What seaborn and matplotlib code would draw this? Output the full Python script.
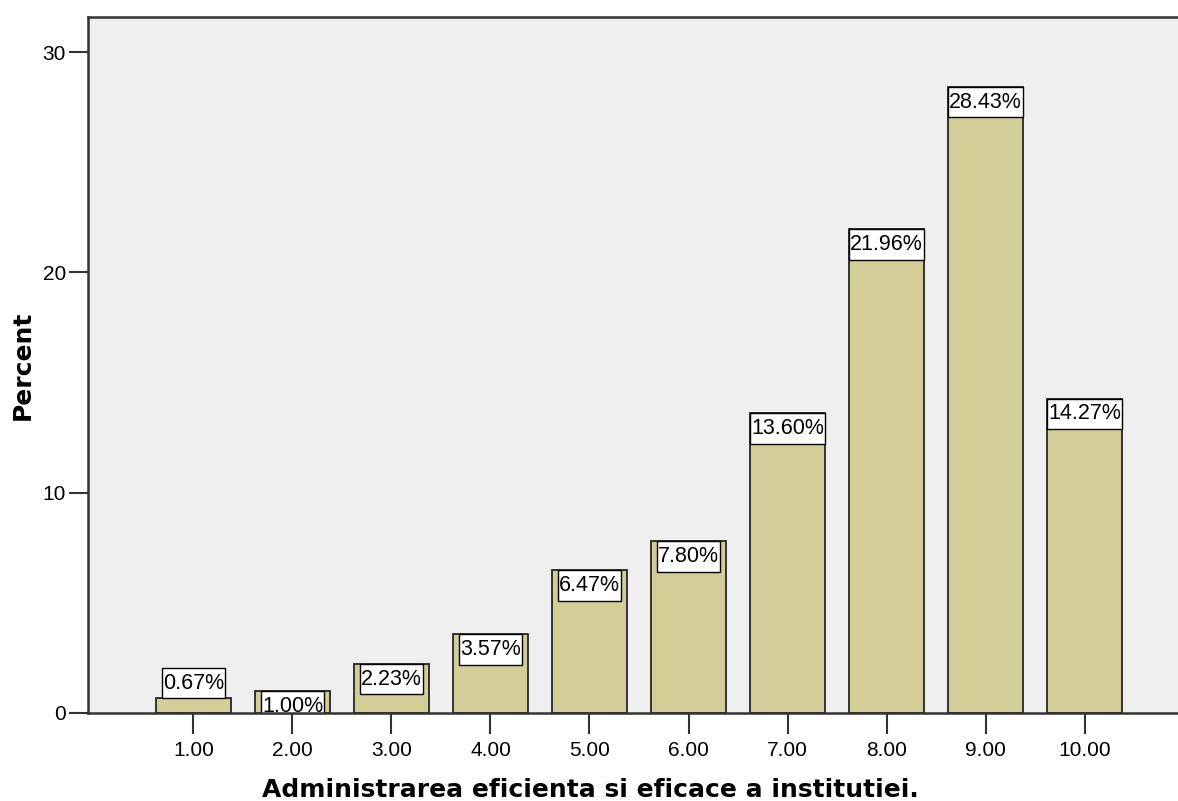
import matplotlib
matplotlib.use("Agg")
import matplotlib.pyplot as plt
from matplotlib.path import Path
import seaborn as sns
import pandas as pd

# Frequency distribution (percent of respondents) for each rating
categories = ["1.00", "2.00", "3.00", "4.00", "5.00",
              "6.00", "7.00", "8.00", "9.00", "10.00"]
percents = [0.67, 1.00, 2.23, 3.57, 6.47, 7.80, 13.60, 21.96, 28.43, 14.27]
y_ticks = [0, 10, 20, 30]
x_title = "Administrarea eficienta si eficace a institutiei."
y_title = "Percent"

LABEL_SIZE = 15.5
PAD_X, PAD_Y = 0.06, 0.22  # fractions of the label font size


def label_box(x0, y0, width, height, mutation_size):
    """Rectangular box with separate horizontal and vertical padding."""
    px, py = PAD_X * mutation_size, PAD_Y * mutation_size
    x0, x1 = x0 - px, x0 + width + px
    y0, y1 = y0 - py, y0 + height + py
    return Path([(x0, y0), (x1, y0), (x1, y1), (x0, y1), (x0, y0)],
                closed=True)


sns.set_theme(style="ticks")
plt.rcParams["font.family"] = ["Liberation Sans", "DejaVu Sans"]

W, H = 1178, 801
fig = plt.figure(figsize=(W / 100, H / 100), dpi=100)
fig.patch.set_facecolor("white")
ax = fig.add_axes([88 / W, 88 / H, 1102 / W, 696 / H])
ax.set_facecolor("#EFEFEF")

df = pd.DataFrame({"rating": categories, "percent": percents})
sns.barplot(data=df, x="rating", y="percent", color="#D3CE97", saturation=1,
            width=0.76, edgecolor="#262626", linewidth=1.3, ax=ax, zorder=2)

# value boxes: inside the top of each bar, above it when the bar is too short
for patch, v in zip(ax.patches, percents):
    cx = patch.get_x() + patch.get_width() / 2
    above = v < 1
    off = PAD_Y * LABEL_SIZE
    ann = ax.annotate(f"{v:.2f}%", (cx, v),
                      xytext=(0, off if above else -off),
                      textcoords="offset points",
                      ha="center", va="bottom" if above else "top",
                      fontsize=LABEL_SIZE, color="black", zorder=4,
                      bbox=dict(boxstyle=label_box, fc="white",
                                ec="black", lw=1.0))
    ann.set_clip_on(True)
    box = ann.get_bbox_patch()
    box.set_clip_box(ax.bbox)
    box.set_clip_on(True)

ax.set_xlim(-1.065, 10.065)
ax.set_ylim(0, 31.6)
ax.set_yticks(y_ticks)
ax.set_yticklabels([str(t) for t in y_ticks])

for side in ["left", "right", "top", "bottom"]:
    ax.spines[side].set_visible(True)
    ax.spines[side].set_color("#333333")
    ax.spines[side].set_linewidth(1.8)
    ax.spines[side].set_zorder(5)

ax.tick_params(axis="x", length=15, width=1.5, pad=5, labelsize=15,
               color="#333333", labelcolor="black")
ax.tick_params(axis="y", length=14, width=1.5, pad=2, labelsize=15,
               color="#333333", labelcolor="black")

ax.set_xlabel(x_title, fontfamily="DejaVu Sans", fontweight="bold",
              fontsize=18, color="black", va="baseline")
ax.xaxis.set_label_coords(0.4555, -0.1207)
ax.set_ylabel(y_title, fontfamily="DejaVu Sans", fontweight="bold",
              fontsize=18, color="black", va="center")
ax.yaxis.set_label_coords(-0.059, 0.5)

fig.savefig("out.png", dpi=100)
